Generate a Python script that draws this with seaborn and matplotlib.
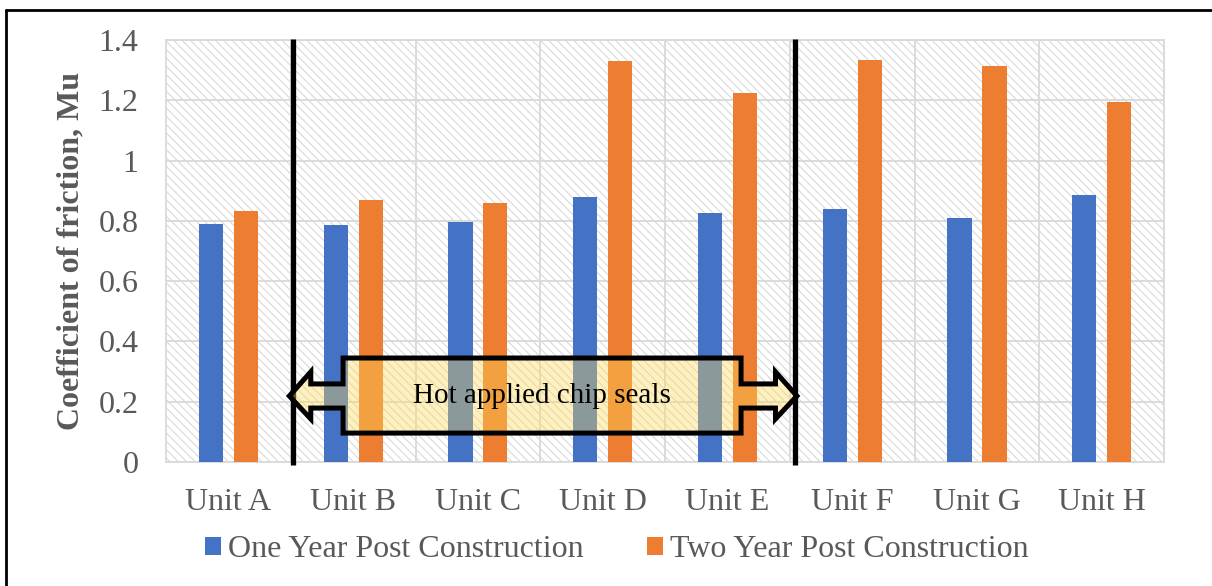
import numpy as np
import pandas as pd
import matplotlib
matplotlib.use("Agg")
import matplotlib.pyplot as plt
import seaborn as sns
from matplotlib.patches import Rectangle, Polygon
from matplotlib.lines import Line2D

units = ["Unit A", "Unit B", "Unit C", "Unit D", "Unit E", "Unit F", "Unit G", "Unit H"]
one_year = [0.789, 0.785, 0.796, 0.878, 0.825, 0.840, 0.808, 0.885]
two_year = [0.832, 0.869, 0.858, 1.331, 1.225, 1.334, 1.315, 1.194]
series = ["One Year Post Construction", "Two Year Post Construction"]
colors = ["#4472C4", "#ED7D31"]
y_ticks = [0, 0.2, 0.4, 0.6, 0.8, 1, 1.2, 1.4]
y_tick_labels = ["0", "0.2", "0.4", "0.6", "0.8", "1", "1.2", "1.4"]
note_text = "Hot applied chip seals"

df = pd.DataFrame({
    "Unit": units * 2,
    "Mu": one_year + two_year,
    "Series": [series[0]] * len(units) + [series[1]] * len(units),
})

sns.set_style("white")
plt.rcParams["font.family"] = ["Liberation Serif", "DejaVu Serif"]
plt.rcParams["hatch.linewidth"] = 0.8
plt.rcParams["hatch.color"] = "#d9d9d9"

grey = "#595959"
grid = "#d9d9d9"
fs = 23

fig = plt.figure(figsize=(12.12, 5.86), dpi=100)
ax = fig.add_axes([0.137, 0.2116, 0.8235, 0.7201])

# hatched plot area
ax.add_patch(Rectangle((0, 0), 1, 1, transform=ax.transAxes, facecolor="white",
                       edgecolor=grid, hatch="\\\\\\\\", linewidth=0, zorder=0))

sns.barplot(data=df, x="Unit", y="Mu", hue="Series", palette=colors,
            width=0.56, gap=0.31, ax=ax, zorder=3, legend=False,
            saturation=1, edgecolor="none")

ax.set_xlim(-0.5, len(units) - 0.5)
ax.set_ylim(0, 1.4)
ax.set_yticks(y_ticks)
ax.set_yticklabels(y_tick_labels)
ax.set_xticks(range(len(units)))
ax.set_xticks(np.arange(0.5, len(units) - 0.5, 1), minor=True)
ax.tick_params(axis="y", length=0, pad=20, labelsize=fs, labelcolor=grey)
ax.tick_params(axis="x", which="both", length=0, pad=19, labelsize=fs, labelcolor=grey)
ax.grid(axis="y", color=grid, lw=1.3, zorder=1)
ax.grid(axis="x", which="minor", color=grid, lw=1.3, zorder=1)
ax.grid(axis="x", which="major", visible=False)
for s in ax.spines.values():
    s.set_color(grid)
    s.set_linewidth(1.3)

ax.set_xlabel("")
ax.set_ylabel("Coefficient of friction, Mu", fontsize=fs, fontweight="bold", color=grey)
ax.yaxis.set_label_coords(-0.081, 0.5)

# separators around the hot applied chip seal units
x_left, x_right = 0.518, 4.542
for xv in (x_left, x_right):
    ax.plot([xv, xv], [-0.01, 1.405], color="black", lw=3.8, zorder=6,
            clip_on=False, solid_capstyle="butt")

# double-headed callout arrow
box_l, box_r = 0.919, 4.109
box_b, box_t = 0.096, 0.345
shaft_b, shaft_t = 0.179, 0.259
head_b, head_t = 0.143, 0.299
mid = 0.219
head = 0.172
tip_l, tip_r = x_left - 0.03, x_right + 0.015
pts = [
    (tip_l, mid), (tip_l + head, head_t), (tip_l + head, shaft_t), (box_l, shaft_t),
    (box_l, box_t), (box_r, box_t), (box_r, shaft_t), (tip_r - head, shaft_t),
    (tip_r - head, head_t), (tip_r, mid), (tip_r - head, head_b), (tip_r - head, shaft_b),
    (box_r, shaft_b), (box_r, box_b), (box_l, box_b), (box_l, shaft_b),
    (tip_l + head, shaft_b), (tip_l + head, head_b),
]
ax.add_patch(Polygon(pts, closed=True, facecolor=(1.0, 0.855, 0.35, 0.38),
                     edgecolor="none", zorder=7))
ax.add_patch(Polygon(pts, closed=True, facecolor="none", edgecolor="black",
                     lw=3.6, joinstyle="miter", zorder=8))
ax.text((box_l + box_r) / 2, mid, note_text, ha="center", va="center",
        fontsize=21, color="black", zorder=9)

# legend
handles = [Rectangle((0, 0), 1, 1, facecolor=c, edgecolor="none") for c in colors]
leg = fig.legend(handles, series, loc="center", bbox_to_anchor=(0.509, 0.062),
                 ncol=2, frameon=False, fontsize=fs, handlelength=0.5,
                 handleheight=0.5, handletextpad=0.2, columnspacing=2.0)
for t in leg.get_texts():
    t.set_color(grey)

# outer frame
fig.add_artist(Line2D([0.005, 1.0], [0.983, 0.983], transform=fig.transFigure,
                      color="black", lw=2))
fig.add_artist(Line2D([0.005, 0.005], [0.0, 0.983], transform=fig.transFigure,
                      color="black", lw=2))

fig.savefig("out.png", dpi=100)
